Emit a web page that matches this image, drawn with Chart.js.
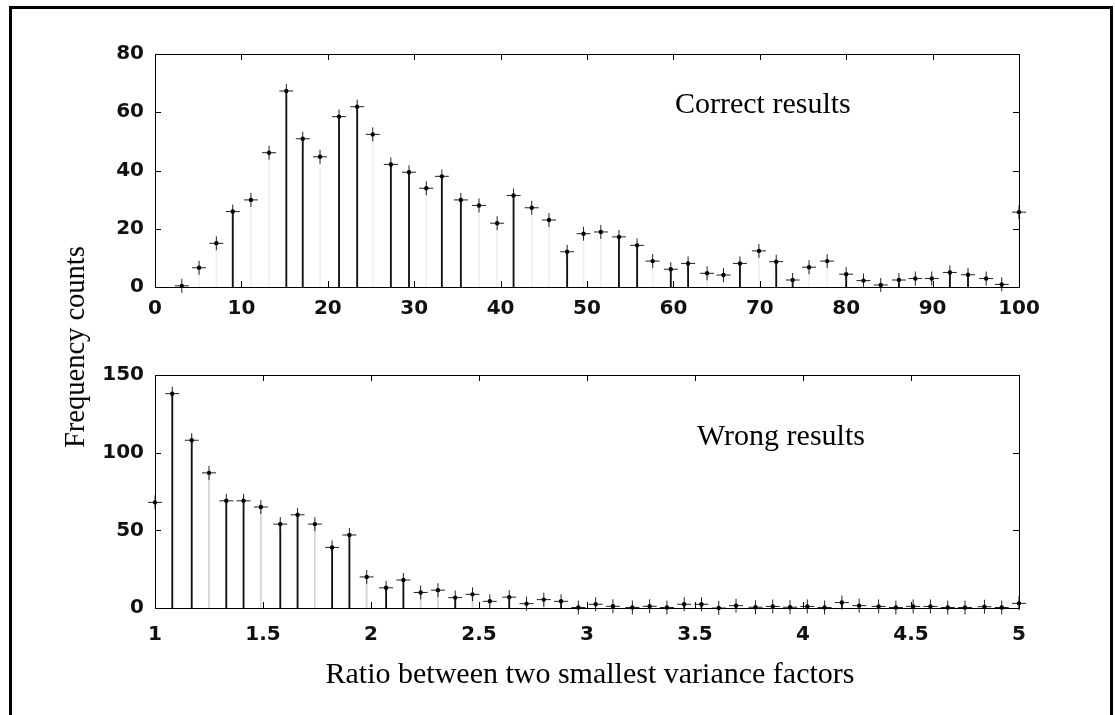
<!DOCTYPE html>
<html>
<head>
<meta charset="utf-8">
<script src="https://cdn.jsdelivr.net/npm/chart.js@4.4.1/dist/chart.umd.min.js"></script>
<style>
  body { margin: 0; background: #fff; }
  #page { position: relative; width: 1115px; height: 715px; overflow: hidden; background: #fff; }
  canvas { position: absolute; left: 0; }
  .frame { position: absolute; left: 9px; top: 6px; width: 1098px; height: 740px; border: 3px solid #000; }
  .serif { position: absolute; font-family: "Liberation Serif", "Times New Roman", serif; font-size: 30px; line-height: 30px; color: #000; white-space: nowrap; }
</style>
</head>
<body>
<div id="page">
  <div class="frame"></div>
  <canvas id="topChart" width="1115" height="340" style="top:0"></canvas>
  <canvas id="bottomChart" width="1115" height="375" style="top:340px"></canvas>
  <div class="serif" style="left:675px; top:88px;">Correct results</div>
  <div class="serif" style="left:697px; top:420px;">Wrong results</div>
  <div class="serif" style="left:590px; top:658px; transform:translateX(-50%);">Ratio between two smallest variance factors</div>
  <div class="serif" style="left:75px; top:347px; font-size:28.5px; transform:translate(-50%,-50%) rotate(-90deg);">Frequency counts</div>
</div>
<script>
// Correct results: bin centres and counts
const topX = [3.1, 5.1, 7.1, 9.0, 11.1, 13.2, 15.2, 17.1, 19.1, 21.3, 23.4, 25.2, 27.3, 29.4, 31.4, 33.2,
  35.4, 37.5, 39.6, 41.5, 43.6, 45.6, 47.7, 49.6, 51.6, 53.7, 55.8, 57.6, 59.7, 61.7, 63.9, 65.8, 67.7,
  69.9, 71.9, 73.8, 75.7, 77.8, 80.0, 82.0, 84.0, 86.1, 88.0, 89.9, 92.0, 94.1, 96.2, 98.0, 100];
const topCounts = [0.4, 6.6, 15, 25.9, 29.9, 46.1, 67.3, 50.9, 44.7, 58.5, 61.9, 52.4, 42.1, 39.4, 33.9, 38,
  29.9, 28, 21.9, 31.4, 27.2, 23, 12.1, 18.3, 18.9, 17.2, 14.3, 8.9, 6.1, 8.1, 4.7, 4.1, 8.1,
  12.4, 8.7, 2.4, 6.8, 8.9, 4.4, 2.2, 0.7, 2.4, 2.9, 2.9, 5.0, 4.2, 2.9, 0.9, 25.7];
const topXTicks = [0, 10, 20, 30, 40, 50, 60, 70, 80, 90, 100];
const topYTicks = [0, 20, 40, 60, 80];

// Wrong results: bin centres and counts
const botX = [1.00, 1.08, 1.17, 1.25, 1.33, 1.41, 1.49, 1.58, 1.66, 1.74, 1.82, 1.90, 1.98, 2.07, 2.15, 2.23,
  2.31, 2.39, 2.47, 2.55, 2.64, 2.72, 2.80, 2.88, 2.96, 3.04, 3.12, 3.21, 3.29, 3.37, 3.45, 3.53, 3.61,
  3.69, 3.78, 3.86, 3.94, 4.02, 4.10, 4.18, 4.26, 4.35, 4.43, 4.51, 4.59, 4.67, 4.75, 4.84, 4.92, 5.00];
const botCounts = [68, 138, 108, 87, 69, 69, 65, 54, 60, 54, 39, 47, 20, 13, 18, 10,
  11.5, 6.7, 8.8, 4.3, 7, 2.8, 5.4, 4.3, 0.3, 2.4, 1.1, 0.3, 1.1, 0.3, 2.4, 2.4, 0,
  1.5, 0.5, 1, 0.5, 1, 0.3, 3.5, 1.5, 1, 0.3, 1, 1, 0.3, 0.3, 0.8, 0.3, 3];
const botXTicks = [1, 1.5, 2, 2.5, 3, 3.5, 4, 4.5, 5];
const botYTicks = [0, 50, 100, 150];

// stems printed solid in the scan; the others are faint
const topSolid = [0, 3, 6, 7, 9, 10, 12, 13, 15, 16, 19, 22, 25, 26, 28, 29, 32, 34, 35, 38, 41, 44, 45, 47];
const botSolid = [1, 2, 4, 5, 7, 8, 10, 11, 13, 14, 17, 20, 23, 24, 26, 28, 30, 31, 33, 35, 37, 39, 42, 44, 46, 48];

// frame round the plot area with inward ticks on all four sides
const framePlugin = {
  id: 'frame',
  afterDraw(chart) {
    const { ctx, chartArea: a, scales } = chart;
    ctx.save();
    ctx.strokeStyle = '#000';
    ctx.lineWidth = 1;
    ctx.strokeRect(a.left + 0.5, a.top + 0.5, a.right - a.left, a.bottom - a.top);
    ctx.beginPath();
    scales.x.ticks.forEach(t => {
      const px = Math.round(scales.x.getPixelForValue(t.value)) + 0.5;
      ctx.moveTo(px, a.bottom); ctx.lineTo(px, a.bottom - 6);
      ctx.moveTo(px, a.top); ctx.lineTo(px, a.top + 6);
    });
    scales.y.ticks.forEach(t => {
      const py = Math.round(scales.y.getPixelForValue(t.value)) + 0.5;
      ctx.moveTo(a.left, py); ctx.lineTo(a.left + 6, py);
      ctx.moveTo(a.right, py); ctx.lineTo(a.right - 6, py);
    });
    ctx.stroke();
    ctx.restore();
  }
};

const tickFont = { family: '"DejaVu Sans", Arial, sans-serif', size: 20, weight: 'bold' };

function stemChart(canvasId, xs, ys, solid, xTicks, yTicks, opts) {
  const pts = xs.map((x, i) => ({ x: x, y: ys[i] }));
  const stemColors = xs.map((x, i) => solid.includes(i) ? '#111' : opts.faint);
  return new Chart(document.getElementById(canvasId), {
    type: 'bar',
    data: {
      datasets: [
        {
          type: 'scatter',
          data: pts,
          clip: false,
          pointStyle: 'circle',
          pointRadius: 2.2,
          backgroundColor: '#000',
          borderWidth: 0,
        },
        {
          type: 'scatter',
          data: pts,
          clip: false,
          pointStyle: 'cross',
          pointRadius: 7,
          borderColor: '#222',
          borderWidth: 1,
        },
        {
          type: 'bar',
          data: pts,
          backgroundColor: stemColors,
          barThickness: 1.2,
          grouped: false,
        },
      ],
    },
    options: {
      responsive: false,
      animation: false,
      layout: { padding: { top: opts.top, right: 96, left: 0, bottom: 0 } },
      plugins: { legend: { display: false }, tooltip: { enabled: false } },
      scales: {
        x: {
          type: 'linear',
          min: xTicks[0],
          max: xTicks[xTicks.length - 1],
          offset: false,
          grid: { display: false, drawTicks: false, offset: false },
          border: { display: false },
          afterBuildTicks: s => { s.ticks = xTicks.map(v => ({ value: v })); },
          afterFit: s => { s.height = opts.xHeight; },
          ticks: { font: tickFont, color: '#111', padding: opts.xPad, maxRotation: 0, autoSkip: false,
            callback: v => String(v) },
        },
        y: {
          min: yTicks[0],
          max: yTicks[yTicks.length - 1],
          grid: { display: false, drawTicks: false },
          border: { display: false },
          afterBuildTicks: s => { s.ticks = yTicks.map(v => ({ value: v })); },
          afterFit: s => { s.width = 155; },
          ticks: { font: tickFont, color: '#111', padding: 11, callback: v => String(v) },
        },
      },
    },
    plugins: [framePlugin],
  });
}

stemChart('topChart', topX, topCounts, topSolid, topXTicks, topYTicks,
  { top: 54, xHeight: 53, xPad: 10, faint: 'rgba(0,0,0,0.06)' });
stemChart('bottomChart', botX, botCounts, botSolid, botXTicks, botYTicks,
  { top: 35, xHeight: 107, xPad: 15, faint: 'rgba(0,0,0,0.16)' });
</script>
</body>
</html>
